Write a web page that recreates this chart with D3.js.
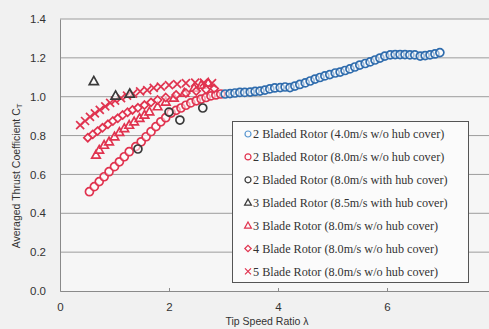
<!DOCTYPE html>
<html>
<head>
<meta charset="utf-8">
<script src="https://cdn.jsdelivr.net/npm/d3@7"></script>
<style>
  html, body { margin: 0; padding: 0; background: #f1f1f1; }
  svg { display: block; }
</style>
</head>
<body>
<svg id="chart" width="489" height="329"></svg>
<script>
// Tip speed ratio (lambda) and averaged thrust coefficient (CT) per rotor configuration
const blade2_4ms_lambda = [3.03,3.12,3.21,3.30,3.39,3.49,3.58,3.67,3.76,3.85,3.94,4.04,4.13,4.22,4.31,4.40,4.50,4.59,4.68,4.77,4.86,4.95,5.05,5.14,5.23,5.32,5.41,5.50,5.60,5.69,5.78,5.87,5.96,6.06,6.15,6.24,6.33,6.42,6.51,6.61,6.70,6.79,6.88,6.97];
const blade2_4ms_ct     = [1.014,1.016,1.019,1.022,1.022,1.024,1.027,1.029,1.034,1.040,1.045,1.047,1.050,1.047,1.055,1.063,1.071,1.081,1.091,1.099,1.107,1.114,1.122,1.127,1.135,1.143,1.153,1.163,1.171,1.179,1.189,1.199,1.209,1.215,1.217,1.217,1.217,1.215,1.215,1.209,1.212,1.215,1.220,1.227];

const blade2_8ms_lambda = [0.54,0.63,0.72,0.81,0.90,1.00,1.09,1.18,1.27,1.39,1.49,1.58,1.67,1.76,1.85,1.94,2.04,2.13,2.22,2.31,2.40,2.50,2.59,2.68,2.77,2.86,2.95];
const blade2_8ms_ct     = [0.511,0.537,0.563,0.588,0.614,0.640,0.665,0.691,0.717,0.743,0.768,0.794,0.820,0.846,0.871,0.892,0.916,0.930,0.942,0.956,0.968,0.979,0.988,0.996,1.004,1.009,1.014];

const blade2_hub_lambda = [1.43,2.00,2.20,2.62];
const blade2_hub_ct     = [0.731,0.921,0.880,0.942];

const blade3_hub_lambda = [0.62,1.02,1.28];
const blade3_hub_ct     = [1.080,1.005,1.015];

const blade3_8ms_lambda = [0.66,0.72,0.81,0.90,1.00,1.09,1.18,1.27,1.36,1.46,1.55,1.64,1.79,1.94,2.09,2.28,2.46,2.59,2.72];
const blade3_8ms_ct     = [0.700,0.726,0.751,0.768,0.794,0.817,0.837,0.854,0.871,0.889,0.906,0.923,0.949,0.973,0.993,1.019,1.045,1.060,1.071];

const blade4_8ms_lambda = [0.51,0.60,0.69,0.78,0.88,0.97,1.06,1.15,1.24,1.33,1.43,1.55,1.67,1.79,1.94,2.13,2.31,2.50,2.68,2.83];
const blade4_8ms_ct     = [0.789,0.806,0.823,0.840,0.858,0.875,0.889,0.906,0.920,0.932,0.943,0.957,0.971,0.983,0.996,1.009,1.019,1.029,1.037,1.042];

const blade5_8ms_lambda = [0.37,0.46,0.55,0.64,0.73,0.83,0.92,1.01,1.12,1.23,1.34,1.47,1.60,1.72,1.85,2.00,2.15,2.31,2.48,2.64,2.79];
const blade5_8ms_ct     = [0.854,0.875,0.896,0.914,0.932,0.950,0.968,0.980,0.993,1.006,1.016,1.027,1.034,1.045,1.052,1.060,1.065,1.070,1.073,1.073,1.070];

const xTicks = [0, 2, 4, 6];
const yTicks = [0.0, 0.2, 0.4, 0.6, 0.8, 1.0, 1.2, 1.4];

const legendLabels = [
  "2 Bladed Rotor (4.0m/s w/o hub cover)",
  "2 Bladed Rotor (8.0m/s w/o hub cover)",
  "2 Bladed Rotor (8.0m/s with hub cover)",
  "3 Bladed Rotor (8.5m/s with hub cover)",
  "3 Blade Rotor (8.0m/s w/o hub cover)",
  "4 Blade Rotor (8.0m/s w/o hub cover)",
  "5 Blade Rotor (8.0m/s w/o hub cover)"
];

const BLUE = "#2f6cad", PINK = "#e0334f", DARK = "#3a3a3a";

// marker path builders centred on the origin
const shapes = {
  circle: r => `M${r},0A${r},${r} 0 1,1 ${-r},0A${r},${r} 0 1,1 ${r},0Z`,
  triangle: r => `M0,${-r}L${r * 0.95},${r * 0.7}L${-r * 0.95},${r * 0.7}Z`,
  diamond: r => `M0,${-r}L${r},0L0,${r}L${-r},0Z`,
  times: r => `M${-r},${-r}L${r},${r}M${r},${-r}L${-r},${r}`
};

const series = [
  { lam: blade2_8ms_lambda, ct: blade2_8ms_ct, shape: "circle", size: 4, color: PINK },
  { lam: blade3_8ms_lambda, ct: blade3_8ms_ct, shape: "triangle", size: 4.5, color: PINK },
  { lam: blade4_8ms_lambda, ct: blade4_8ms_ct, shape: "diamond", size: 4, color: PINK },
  { lam: blade5_8ms_lambda, ct: blade5_8ms_ct, shape: "times", size: 4, color: PINK },
  { lam: blade2_hub_lambda, ct: blade2_hub_ct, shape: "circle", size: 4, color: DARK },
  { lam: blade3_hub_lambda, ct: blade3_hub_ct, shape: "triangle", size: 4.8, color: DARK },
  { lam: blade2_4ms_lambda, ct: blade2_4ms_ct, shape: "circle", size: 4, color: BLUE }
];

const legendKeys = [
  { shape: "circle", color: "#5a97d0", size: 3 },
  { shape: "circle", color: PINK, size: 3 },
  { shape: "circle", color: DARK, size: 3 },
  { shape: "triangle", color: DARK, size: 3.6 },
  { shape: "triangle", color: PINK, size: 3.6 },
  { shape: "diamond", color: PINK, size: 3.2 },
  { shape: "times", color: PINK, size: 3 }
];

const svg = d3.select("#chart");
const x = d3.scaleLinear().domain([0, 8]).range([60, 496]);
const y = d3.scaleLinear().domain([0, 1.4]).range([291, 19]);

// plot background
svg.append("rect")
  .attr("x", x(0)).attr("y", y(1.4))
  .attr("width", 489 - x(0)).attr("height", y(0) - y(1.4))
  .attr("fill", "#f6f6f6");

// horizontal gridlines
svg.append("g").selectAll("line").data(yTicks.filter(v => v > 0)).join("line")
  .attr("x1", x(0)).attr("x2", 489)
  .attr("y1", d => y(d)).attr("y2", d => y(d))
  .attr("stroke", "#9c9c9c").attr("stroke-width", 1);

// y axis
const yAxis = svg.append("g")
  .attr("transform", `translate(${x(0)},0)`)
  .call(d3.axisLeft(y).tickValues(yTicks).tickFormat(d3.format(".1f")).tickSize(0).tickPadding(14));
yAxis.select(".domain").attr("stroke", "#8a8a8a");
yAxis.selectAll("text")
  .attr("font-family", "Liberation Sans, Arial, sans-serif")
  .attr("font-size", 11.5).attr("fill", "#333");

// x axis
const xAxis = svg.append("g")
  .attr("transform", `translate(0,${y(0)})`)
  .call(d3.axisBottom(x).tickValues(xTicks).tickFormat(d3.format("d")).tickSize(-3).tickPadding(12));
xAxis.select(".domain").attr("stroke", "#8a8a8a");
xAxis.selectAll(".tick line").attr("stroke", "#8a8a8a");
xAxis.selectAll("text")
  .attr("font-family", "Liberation Sans, Arial, sans-serif")
  .attr("font-size", 11.5).attr("fill", "#333");

// axis titles
svg.append("text")
  .attr("x", 267).attr("y", 325)
  .attr("text-anchor", "middle")
  .attr("font-family", "Liberation Sans, Arial, sans-serif")
  .attr("font-size", 10.5).attr("fill", "#333")
  .text("Tip Speed Ratio λ");

const yTitle = svg.append("text")
  .attr("transform", "translate(20,176) rotate(-90)")
  .attr("text-anchor", "middle")
  .attr("font-family", "Liberation Sans, Arial, sans-serif")
  .attr("font-size", 10.5).attr("fill", "#333");
yTitle.append("tspan").text("Averaged Thrust Coefficient C");
yTitle.append("tspan").attr("font-size", 7.5).attr("dy", 2).text("T");

// data markers
const marks = svg.append("g");
series.forEach(s => {
  const pts = s.lam.map((l, i) => [l, s.ct[i]]);
  marks.append("g").selectAll("path").data(pts).join("path")
    .attr("transform", d => `translate(${x(d[0])},${y(d[1])})`)
    .attr("d", shapes[s.shape](s.size))
    .attr("fill", s.shape === "times" ? "none" : "rgba(255,255,255,0.55)")
    .attr("stroke", s.color)
    .attr("stroke-width", 1.7);
});

// legend
const lg = svg.append("g");
lg.append("rect")
  .attr("x", 232.5).attr("y", 121.5).attr("width", 236).attr("height", 161)
  .attr("fill", "#fbfbfb").attr("stroke", "#555").attr("stroke-width", 1);
const rows = lg.selectAll("g.row").data(legendLabels).join("g")
  .attr("class", "row")
  .attr("transform", (d, i) => `translate(248,${134 + i * 22.9})`);
rows.append("path")
  .attr("d", (d, i) => shapes[legendKeys[i].shape](legendKeys[i].size))
  .attr("fill", "none")
  .attr("stroke", (d, i) => legendKeys[i].color)
  .attr("stroke-width", 1.2);
rows.append("text")
  .attr("x", 5).attr("dy", "0.35em")
  .attr("font-family", "Liberation Serif, Times New Roman, serif")
  .attr("font-size", 12.2).attr("fill", "#333")
  .text(d => d);
</script>
</body>
</html>
